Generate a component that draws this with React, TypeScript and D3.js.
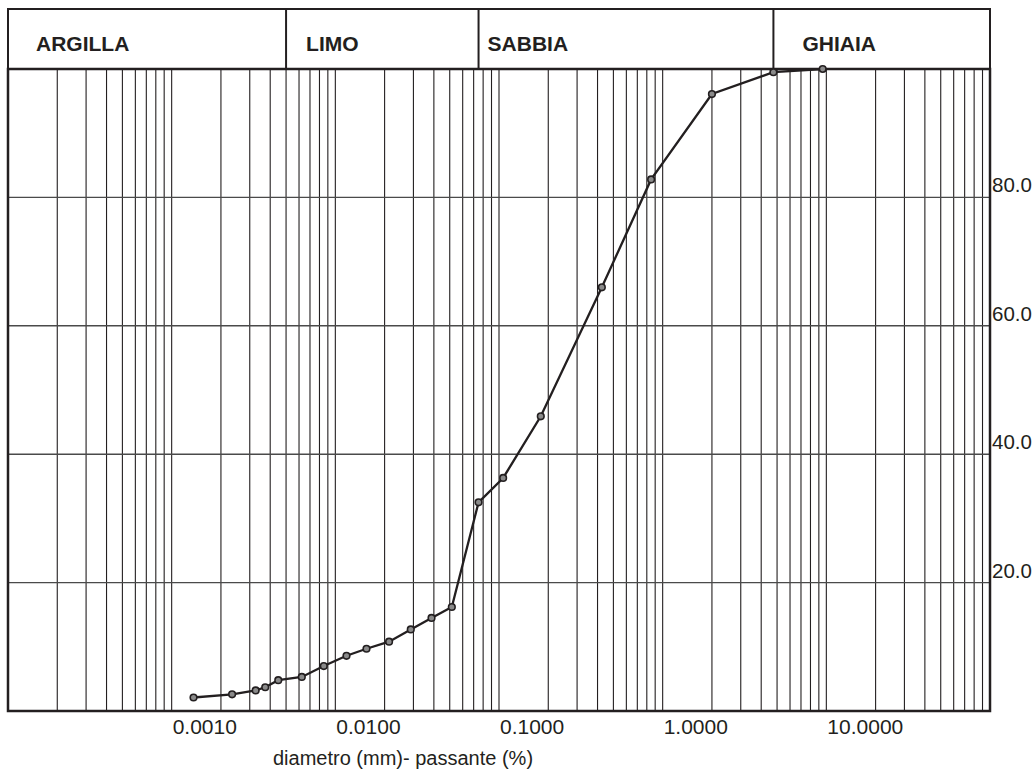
import React from "react";
import * as d3 from "d3";

// ---- data ----
const diameters: number[] = [
  0.00136, 0.00234, 0.00326, 0.00373, 0.00448, 0.00624, 0.0085, 0.0117,
  0.0155, 0.0213, 0.0289, 0.0387, 0.0515, 0.075, 0.106, 0.18, 0.425, 0.85,
  2.0, 4.75, 9.5,
];
const passing: number[] = [
  2.1, 2.6, 3.2, 3.7, 4.8, 5.3, 7.0, 8.6, 9.7, 10.8, 12.7, 14.5, 16.2, 32.5,
  36.3, 45.9, 66.0, 82.8, 96.1, 99.5, 100.0,
];
const xTickValues: number[] = [0.001, 0.01, 0.1, 1, 10];
const yTickValues: number[] = [20, 40, 60, 80];
const classNames: string[] = ["ARGILLA", "LIMO", "SABBIA", "GHIAIA"];
const classBounds: number[] = [0.005, 0.075, 4.75];
const axisTitle = "diametro (mm)- passante (%)";

// ---- layout ----
const W = 1034;
const H = 773;
const left = 8;
const right = 990;
const top = 69;
const bottom = 711;
const headerTop = 9;
const labelOffsets = [28, 20, 9, 29];
const FONT = "'Liberation Sans', Arial, Helvetica, sans-serif";
const INK = "#231f20";

export default function App() {
  const x = d3.scaleLog().domain([0.0001, 100]).range([left, right]);
  const y = d3.scaleLinear().domain([0, 100]).range([bottom, top]);

  // minor + decade gridlines
  const gridX: number[] = [];
  for (let e = -4; e < 2; e++) {
    for (let m = 1; m <= 9; m++) {
      const v = m * Math.pow(10, e);
      if (v > 0.0001 && v < 100) gridX.push(v);
    }
  }

  const line = d3
    .line<number>()
    .x((_, i) => x(diameters[i]))
    .y((p) => y(p));

  const fmtX = d3.format(".4f");
  const fmtY = d3.format(".1f");

  const headerEdges = [x.invert(left), ...classBounds, x.invert(right)];

  return (
    <svg
      width={W}
      height={H}
      style={{ position: "absolute", left: 0, top: 0, background: "#fff" }}
      fontFamily={FONT}
    >
      {/* vertical gridlines */}
      {gridX.map((v, i) => (
        <line
          key={"gx" + i}
          x1={x(v)}
          x2={x(v)}
          y1={top}
          y2={bottom}
          stroke={INK}
          strokeWidth={1.1}
        />
      ))}
      {/* horizontal gridlines */}
      {yTickValues.map((v) => (
        <line
          key={"gy" + v}
          x1={left}
          x2={right}
          y1={y(v)}
          y2={y(v)}
          stroke="#4a4a4a"
          strokeWidth={1.4}
        />
      ))}

      {/* header boxes */}
      <rect
        x={left}
        y={headerTop}
        width={right - left}
        height={top - headerTop}
        fill="#fff"
        stroke={INK}
        strokeWidth={2}
      />
      {classBounds.map((b, i) => (
        <line
          key={"cb" + i}
          x1={x(b)}
          x2={x(b)}
          y1={headerTop}
          y2={top}
          stroke={INK}
          strokeWidth={2}
        />
      ))}
      {classNames.map((n, i) => (
        <text
          key={n}
          x={x(headerEdges[i]) + labelOffsets[i]}
          y={51}
          fontSize={21}
          fontWeight="bold"
          fill={INK}
        >
          {n}
        </text>
      ))}

      {/* plot frame */}
      <rect
        x={left}
        y={top}
        width={right - left}
        height={bottom - top}
        fill="none"
        stroke={INK}
        strokeWidth={2.5}
      />

      {/* data line */}
      <path d={line(passing) || ""} fill="none" stroke={INK} strokeWidth={2.3} />
      {passing.map((p, i) => (
        <circle
          key={"pt" + i}
          cx={x(diameters[i])}
          cy={y(p)}
          r={3.3}
          fill="#8a8a8a"
          stroke={INK}
          strokeWidth={1.6}
        />
      ))}

      {/* x tick labels */}
      {xTickValues.map((v) => (
        <text key={"xt" + v} x={x(v) + 1} y={734} fontSize={21} fill={INK}>
          {fmtX(v)}
        </text>
      ))}
      {/* y tick labels */}
      {yTickValues.map((v) => (
        <text key={"yt" + v} x={992} y={y(v) - 5} fontSize={20.5} fill={INK}>
          {fmtY(v)}
        </text>
      ))}

      {/* axis title */}
      <text x={273} y={765} fontSize={20} fill={INK}>
        {axisTitle}
      </text>
    </svg>
  );
}
